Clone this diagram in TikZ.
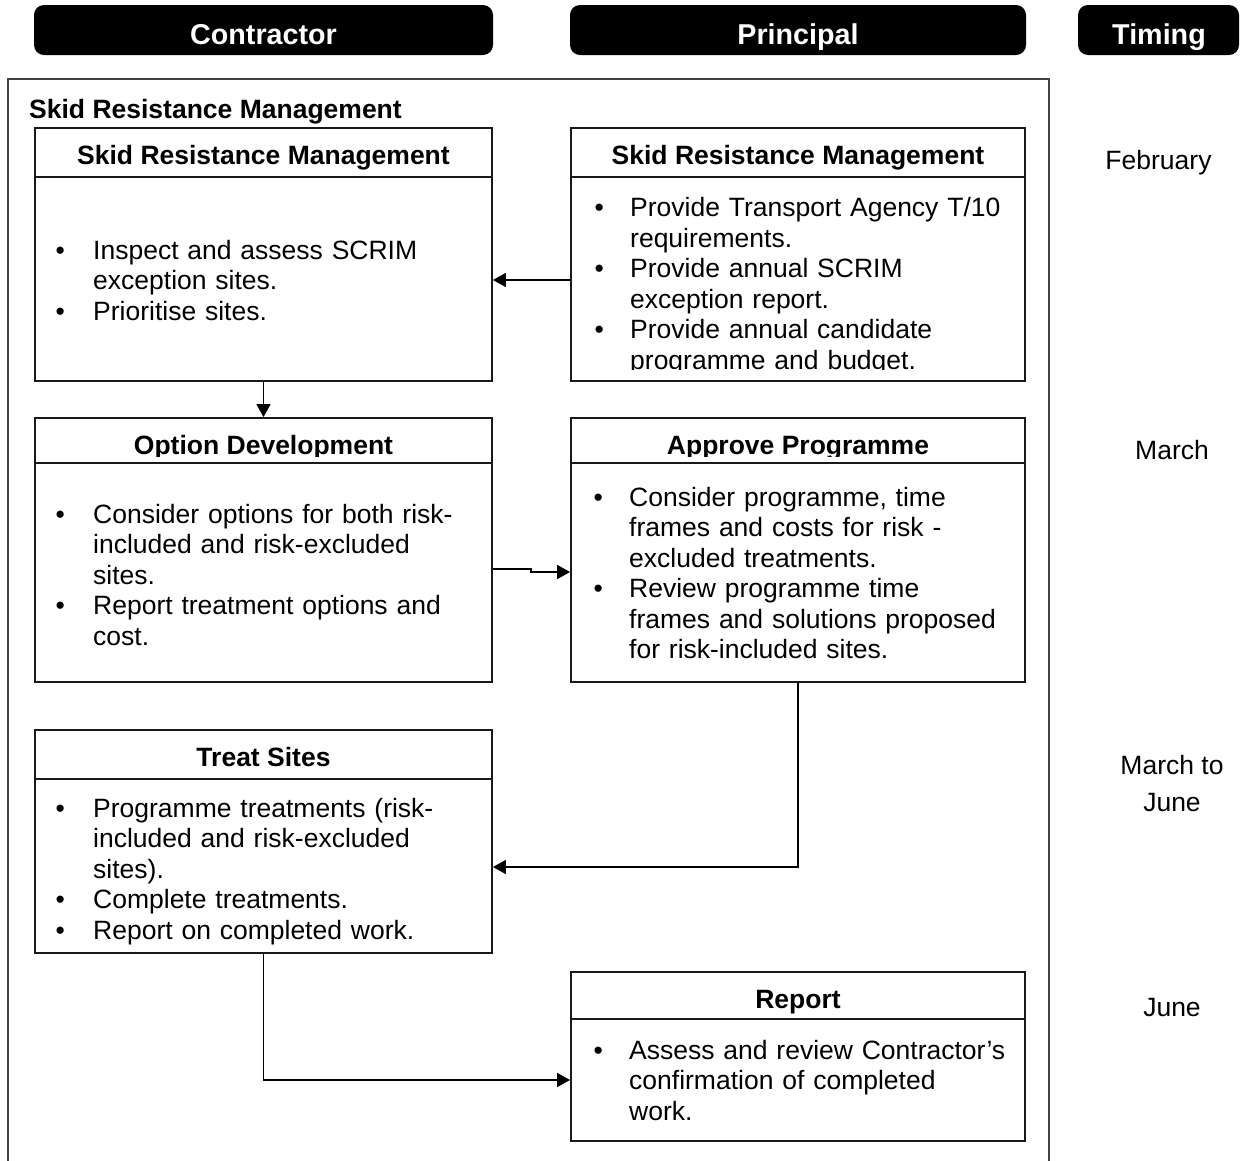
\documentclass[tikz,border=0pt]{standalone}
\usepackage{fontspec}
\setmainfont{Liberation Sans}
\usetikzlibrary{arrows.meta}

% bullets hung to the left of the item text
\newcommand\lbul{\leavevmode\llap{\makebox[66pt][c]{•}}}
\newcommand\rbul{\leavevmode\llap{\makebox[62pt][c]{•}}}

\tikzset{
  txt/.style={inner sep=0pt, font=\fontsize{26.5}{30.5}\selectfont},
  ttl/.style={txt, anchor=base, font=\fontsize{26.5}{30.5}\selectfont\bfseries},
  body/.style={txt, anchor=north west, text width=440pt, align=left},
  pill/.style={fill=black, rounded corners=10pt, inner sep=0pt, minimum height=50pt},
  pilltext/.style={inner sep=0pt, anchor=base, text=white, font=\fontsize{28.7}{32}\selectfont\bfseries},
  stage/.style={draw=black!90, line width=1.8pt, inner sep=0pt},
  lanebox/.style={draw=black!75, line width=1.3pt},
  arr/.style={draw=black, line width=1.5pt, -{Triangle[length=13pt, width=14pt]}},
  timing/.style={txt, anchor=base},
}

\begin{document}
\begin{tikzpicture}[x=1pt, y=-1pt]
\useasboundingbox (0,0) rectangle (1248,1160);

% column headers
\node[pill, minimum width=459pt] (hdrC) at (263.5,30) {};
\node[pill, minimum width=456pt] (hdrP) at (798,30) {};
\node[pill, minimum width=161pt] (hdrT) at (1158.5,30) {};
\node[pilltext] (hdrCt) at (263.5,44) {Contractor};
\node[pilltext] (hdrPt) at (798,44) {Principal};
\node[pilltext] (hdrTt) at (1159,44) {Timing};

% open frame around the process
\draw[lanebox] (8,1162) -- (8,79) -- (1049,79) -- (1049,1162);
\node[ttl, anchor=base west] (grp) at (29,118.5) {Skid Resistance Management};

% stage boxes
\node[stage, minimum width=457pt, minimum height=253pt] (sA) at (263.5,254.5) {};
\node[stage, minimum width=454pt, minimum height=253pt] (sB) at (798,254.5) {};
\node[stage, minimum width=457pt, minimum height=264pt] (sC) at (263.5,550) {};
\node[stage, minimum width=454pt, minimum height=264pt] (sD) at (798,550) {};
\node[stage, minimum width=457pt, minimum height=223pt] (sE) at (263.5,841.5) {};
\node[stage, minimum width=454pt, minimum height=169pt] (sF) at (798,1056.5) {};

% title dividers
\draw[stage] ([yshift=-50pt]sA.north west) -- ([yshift=-50pt]sA.north east);
\draw[stage] ([yshift=-50pt]sB.north west) -- ([yshift=-50pt]sB.north east);
\draw[stage] ([yshift=-46pt]sC.north west) -- ([yshift=-46pt]sC.north east);
\draw[stage] ([yshift=-46pt]sD.north west) -- ([yshift=-46pt]sD.north east);
\draw[stage] ([yshift=-50pt]sE.north west) -- ([yshift=-50pt]sE.north east);
\draw[stage] ([yshift=-48pt]sF.north west) -- ([yshift=-48pt]sF.north east);

% titles
\node[ttl] (tA) at (263.5,164) {Skid Resistance Management};
\node[ttl] (tB) at (798,164) {Skid Resistance Management};
\begin{scope}
  \clip (36,420) rectangle (1024,456);
  \node[ttl] (tC) at (263.5,454.5) {Option Development};
  \node[ttl] (tD) at (798,454.5) {Approve Programme};
\end{scope}
\node[ttl] (tE) at (263.5,766) {Treat Sites};
\node[ttl] (tF) at (798,1008.5) {Report};

% bodies
\node[body] (bA) at (93,237.6) {\strut\lbul Inspect and assess SCRIM\\
  exception sites.\\
  \lbul Prioritise sites.};
\begin{scope}
  \clip (572,180) rectangle (1024,369.5);
  \node[body] (bB) at (630,195.1) {\strut\rbul Provide Transport Agency T/10\\
    requirements.\\
    \rbul Provide annual SCRIM\\
    exception report.\\
    \rbul Provide annual candidate\\
    programme and budget.};
\end{scope}
\node[body] (bC) at (93,501.6) {\strut\lbul Consider options for both risk-\\
  included and risk-excluded\\
  sites.\\
  \lbul Report treatment options and\\
  cost.};
\node[body] (bD) at (629,484.6) {\strut\rbul Consider programme, time\\
  frames and costs for risk -\\
  excluded treatments.\\
  \rbul Review programme time\\
  frames and solutions proposed\\
  for risk-included sites.};
\node[body] (bE) at (93,795.8) {\strut\lbul Programme treatments (risk-\\
  included and risk-excluded\\
  sites).\\
  \lbul Complete treatments.\\
  \lbul Report on completed work.};
\node[body] (bF) at (629,1037.6) {\strut\rbul Assess and review Contractor’s\\
  confirmation of completed\\
  work.};

% timing column
\node[timing] (m1) at (1158.5,169.5) {February};
\node[timing] (m2) at (1172,459.5) {March};
\node[timing] (m3a) at (1172,774.5) {March to};
\node[timing] (m3b) at (1172,811.5) {June};
\node[timing] (m4) at (1172,1016.5) {June};

% connectors
\draw[arr] (sB.west |- 0,280) -- (sA.east |- 0,280);
\draw[arr] (sA.south) -- (sC.north);
\draw[arr] (sC.east |- 0,569) -- (531,569) -- (531,572) -- (sD.west |- 0,572);
\draw[arr] (sD.south) |- (sE.east |- 0,867);
\draw[arr] (sE.south) |- (sF.west |- 0,1080);
\end{tikzpicture}
\end{document}
